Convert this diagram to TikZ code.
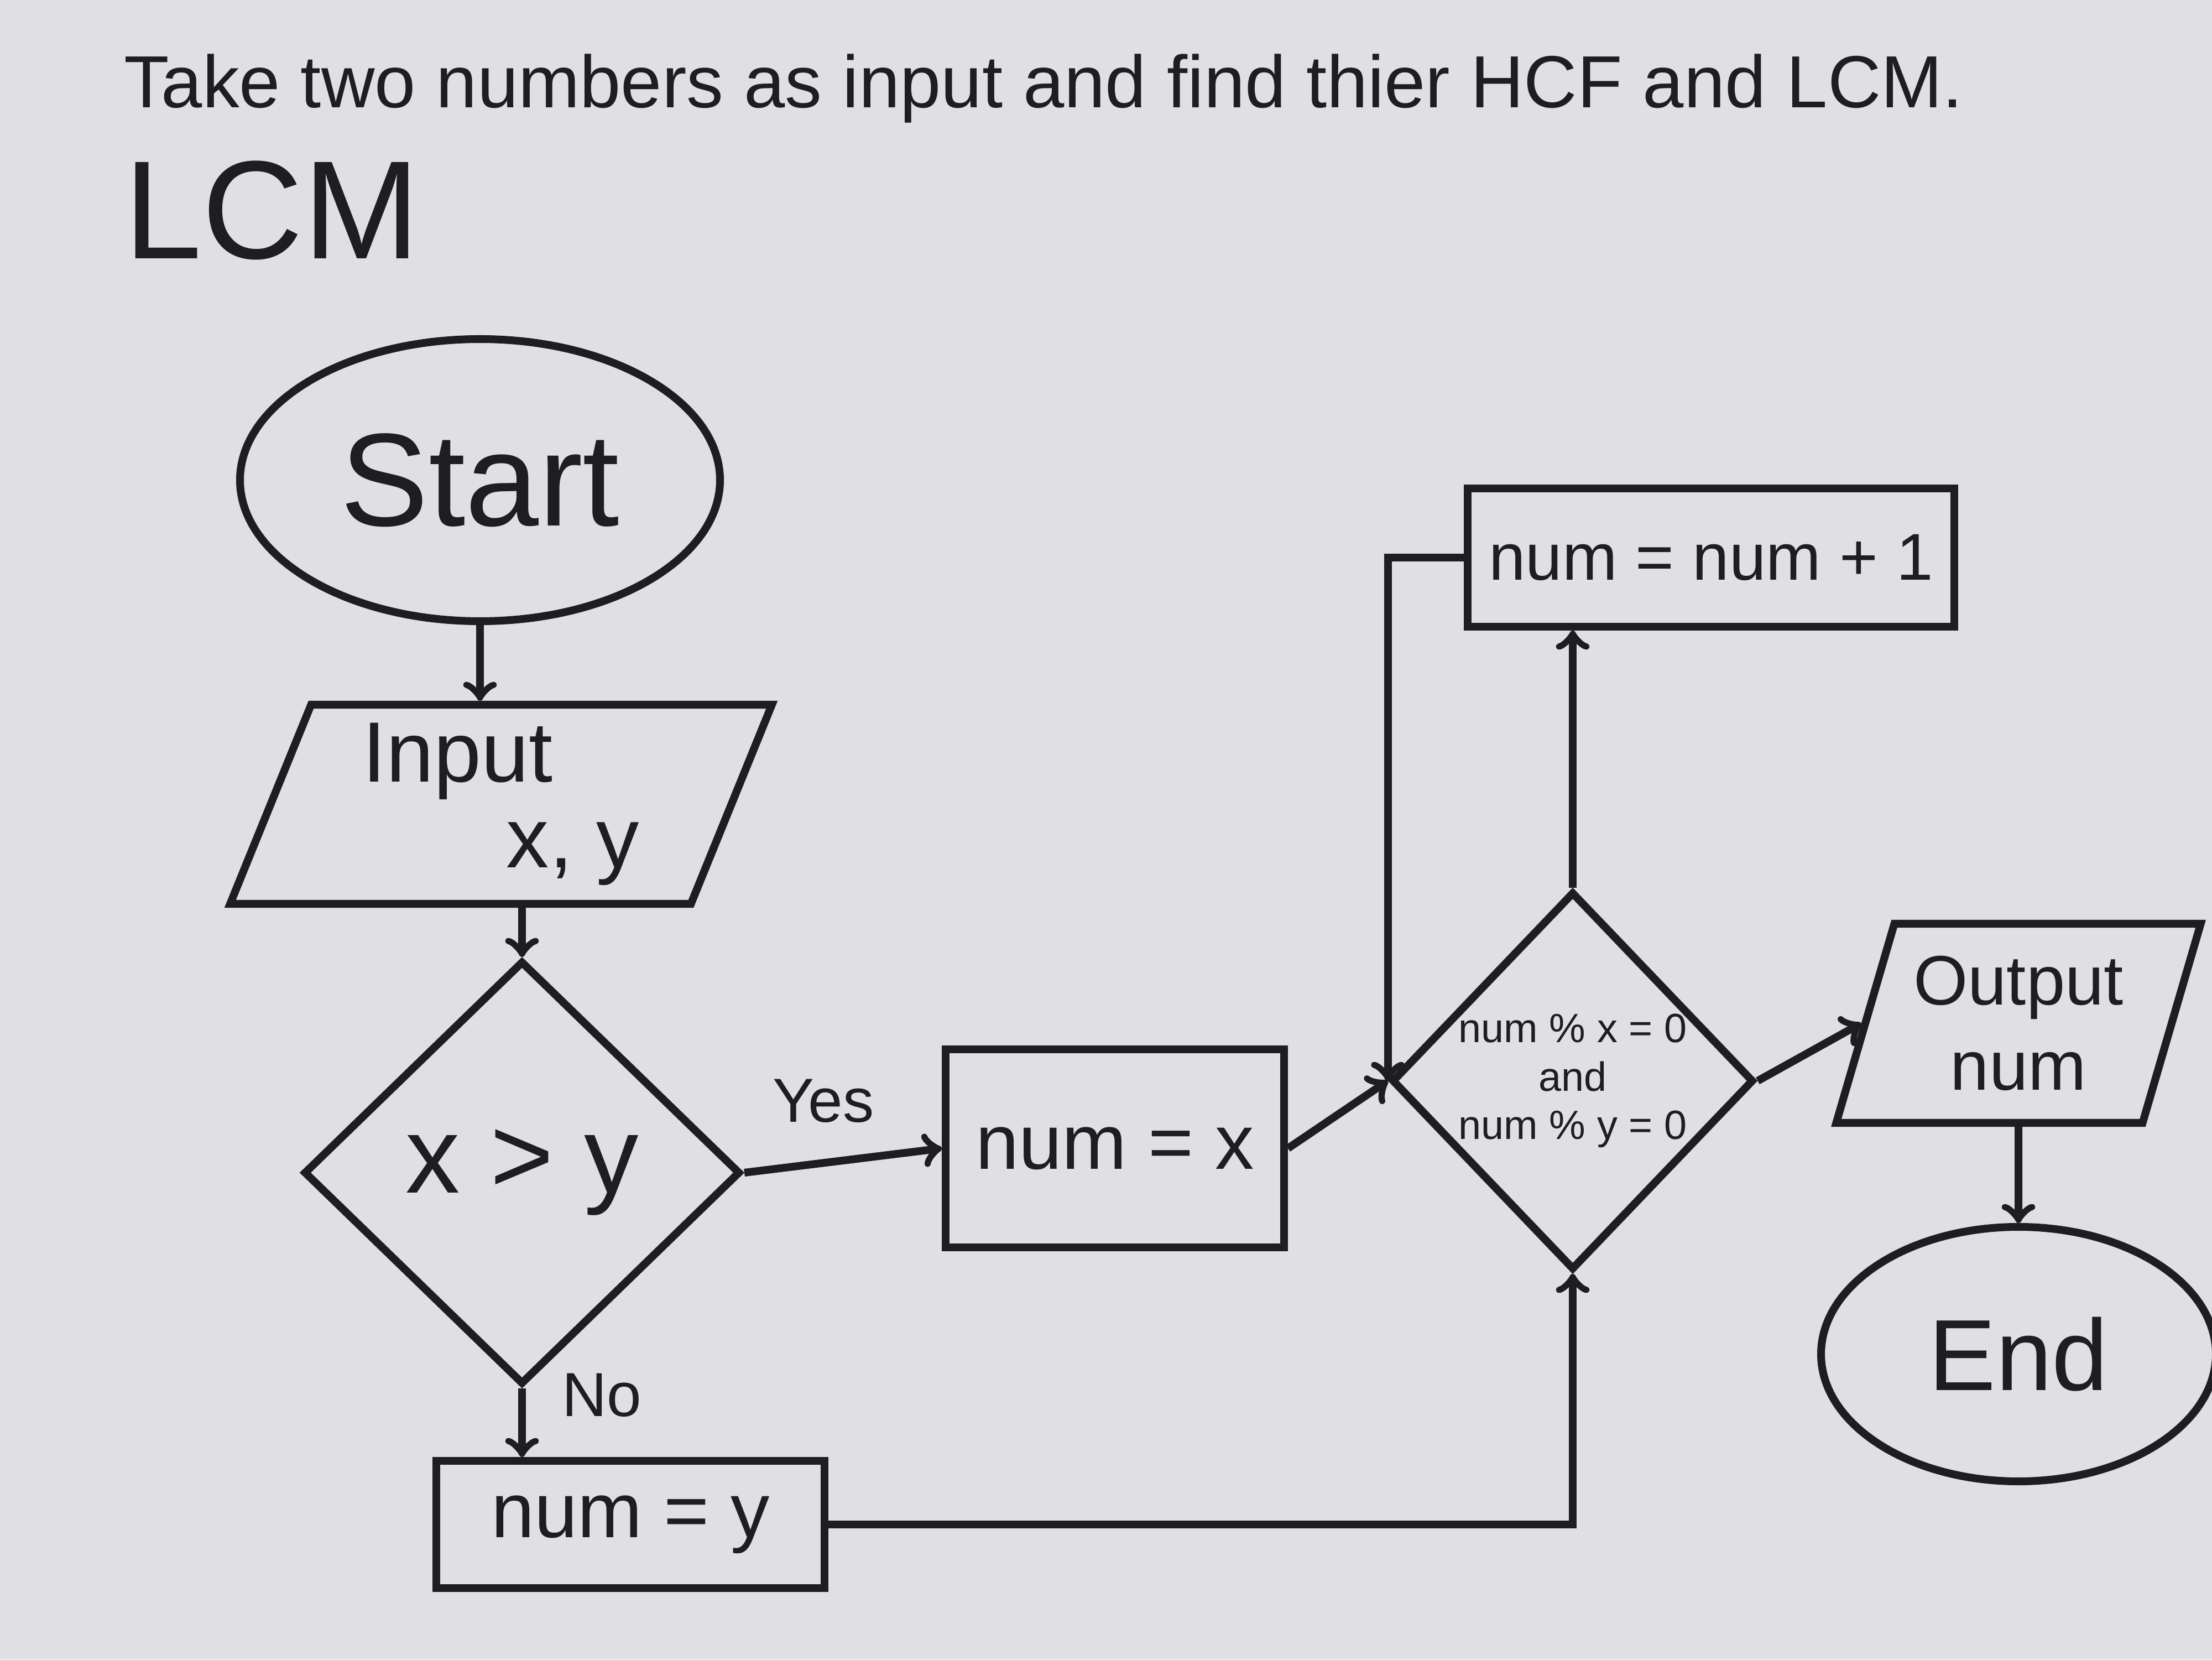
\documentclass[tikz,border=0pt]{standalone}
\usepackage{fontspec}
\setmainfont{Liberation Sans}
\usetikzlibrary{shapes.geometric}
\definecolor{board}{RGB}{224,224,228}
\definecolor{marker}{RGB}{30,30,32}
\tikzset{
  every node/.style={text=marker},
  flow/.style={draw=marker, line width=2pt},
  term/.style={flow, ellipse, inner sep=0pt},
  io/.style={flow, trapezium, trapezium left angle=70, trapezium right angle=110, trapezium stretches=true, inner sep=0pt},
  proc/.style={flow, rectangle, inner sep=0pt},
  decide/.style={flow, diamond, inner sep=0pt, aspect=1},
  link/.style={->, draw=marker, line width=2pt}
}
\begin{document}
\begin{tikzpicture}[]

		\fill[board] (0,0) rectangle (20,15);
		\useasboundingbox (0,0) rectangle (20,15);

		\node[anchor=west, font=\fontsize{19}{23}\selectfont] (title) at (1.0,14.2) {Take two numbers as input and find thier HCF and LCM.};
		\node[anchor=west, font=\fontsize{36}{40}\selectfont] (head) at (1.0,13.1) {LCM};

		\node[term, minimum width=4.34cm, minimum height=2.55cm, font=\fontsize{34}{38}\selectfont] (start) at (4.34,10.66) {Start};
		\node[io, minimum width=4.9cm, minimum height=1.8cm, align=left, font=\fontsize{22}{22}\selectfont] (input) at (4.53,7.73) {Input\\\hspace{1.3cm}x, y};
		\node[decide, minimum width=3.95cm, minimum height=3.83cm, font=\fontsize{28}{30}\selectfont] (cmp) at (4.72,4.4) {x > y};
		\node[proc, minimum width=3.06cm, minimum height=1.79cm, font=\fontsize{20}{22}\selectfont] (setx) at (10.08,4.62) {num = x};
		\node[proc, minimum width=3.51cm, minimum height=1.15cm, font=\fontsize{20}{22}\selectfont] (sety) at (5.70,1.22) {num = y};
		\node[decide, minimum width=3.0cm, minimum height=3.42cm, align=center, font=\fontsize{10.5}{12.5}\selectfont] (check) at (14.22,5.23) {num \% x = 0\\and\\num \% y = 0};
		\node[proc, minimum width=4.4cm, minimum height=1.25cm, font=\fontsize{17}{19}\selectfont] (incr) at (15.47,9.96) {num = num + 1};
		\node[io, minimum width=3.3cm, minimum height=1.8cm, align=center, font=\fontsize{18}{22}\selectfont] (output) at (18.25,5.75) {Output\\num};
		\node[term, minimum width=3.57cm, minimum height=2.3cm, font=\fontsize{26}{28}\selectfont] (stop) at (18.25,2.76) {End};

		\draw[link] (start.south) -- (start.south |- input.north);
		\draw[link] (cmp.north |- input.south) -- (cmp.north);
		\draw[link] (cmp.east) -- node[above=6pt, pos=0.4, font=\fontsize{16}{18}\selectfont]{Yes} (setx.west);
		\draw[link] (cmp.south) -- node[right=6pt, pos=0.1, font=\fontsize{16}{18}\selectfont]{No} (cmp.south |- sety.north);
		\draw[link] (setx.east) -- (check.west);
		\draw[link] (sety.east) -| (check.south);
		\draw[link] (check.north) -- (check.north |- incr.south);
		\draw[link] (incr.west) -| (check.west);
		\draw[link] (check.east) -- (output.west);
		\draw[link] (output.south) -- (stop.north);
	\end{tikzpicture}
\end{document}
